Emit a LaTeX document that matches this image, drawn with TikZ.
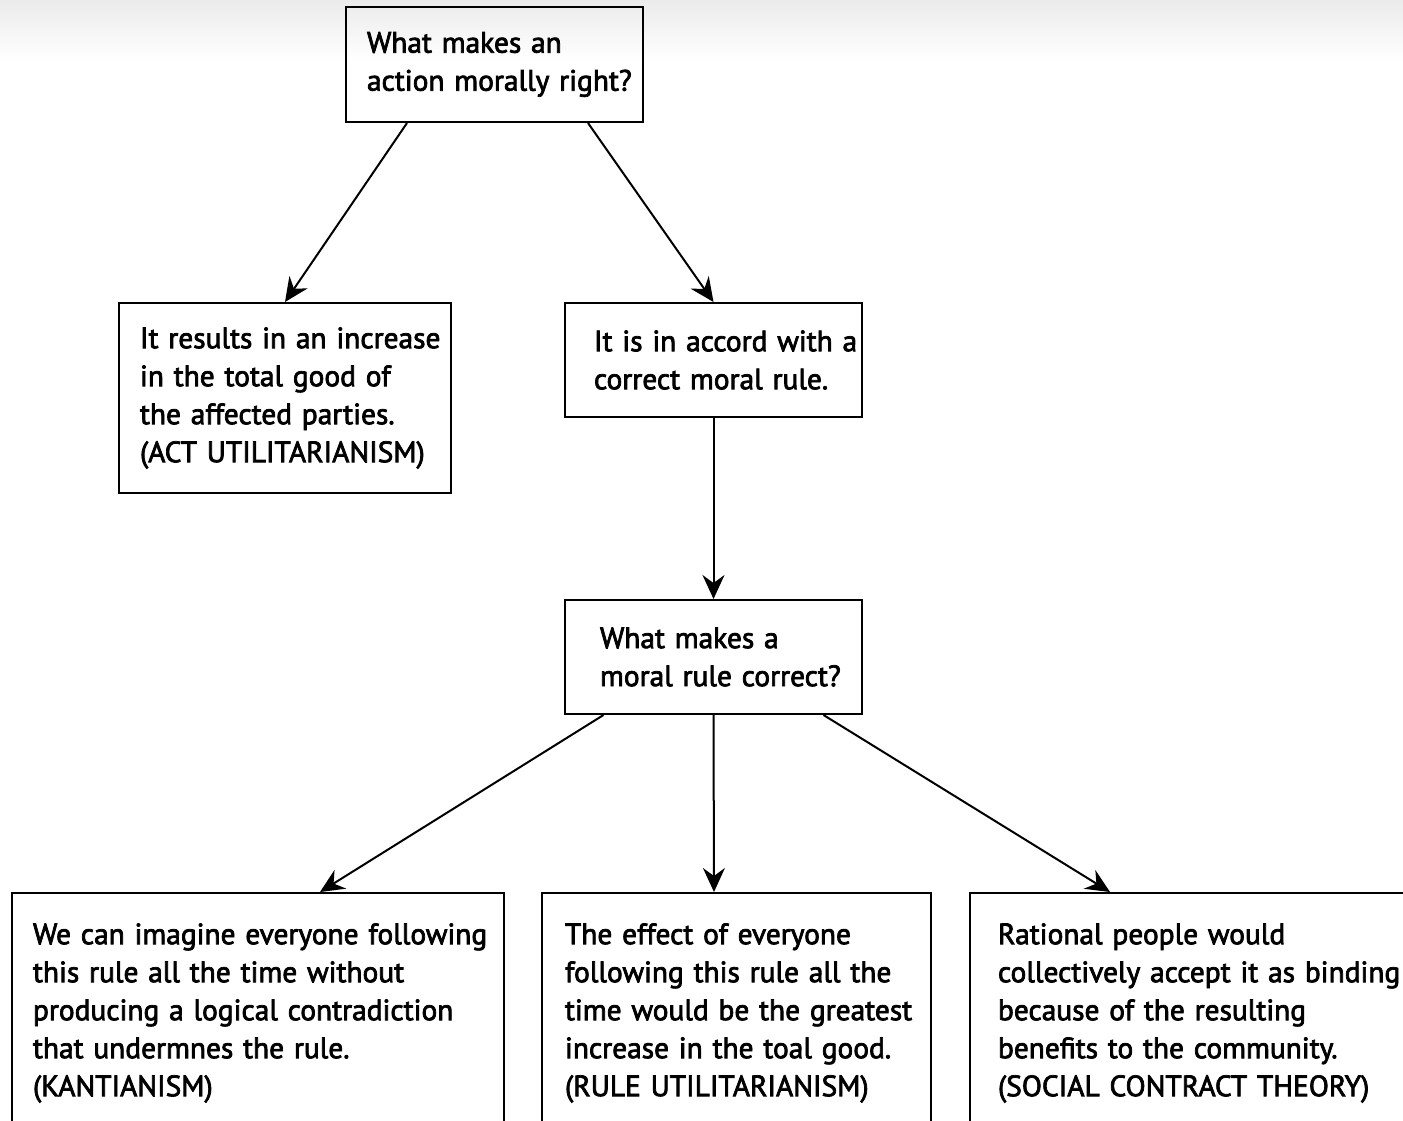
\documentclass[tikz,border=0pt]{standalone}
\usepackage{fontspec}
\setmainfont{PT Sans}[FakeBold=2.5]
\usepackage{tikz}
\usetikzlibrary{arrows.meta}

\begin{document}
\begin{tikzpicture}[x=0.5pt,y=-0.5pt]
\tikzset{>={Stealth[length=12pt,width=11pt,inset=4pt]}}
\tikzstyle{qbox} =[draw, line width=1pt, align=left, inner sep=0pt,
  font=\fontsize{14.7}{19}\selectfont]
\tikzset{lpad/.style={execute at begin node={\leftskip=#1\relax}}}
\tikzstyle{link} =[->, line width=1pt]

\useasboundingbox (0,0) rectangle (1403,1120);
\shade[top color=black!8, bottom color=white] (0,0) rectangle (1403,60);

\node[qbox, lpad=10.5pt, text width=148.5pt, minimum height=57.5pt](top) at (494.5,64.5)
  {What makes an\\action morally right?};
\node[qbox, lpad=10.5pt, text width=166pt, minimum height=95pt](act) at (285,398)
  {It results in an increase\\in the total good of\\the affected parties.\\(ACT UTILITARIANISM)};
\node[qbox, lpad=14.5pt, text width=148.5pt, minimum height=57pt](rule) at (713.5,360)
  {It is in accord with a\\correct moral rule.};
\node[qbox, lpad=17.5pt, text width=148.5pt, minimum height=57pt](what) at (713.5,657)
  {What makes a\\moral rule correct?};
\node[qbox, lpad=10.5pt, text width=246pt, minimum height=120pt](kant) at (258,1013)
  {We can imagine everyone following\\this rule all the time without\\producing a logical contradiction\\that undermnes the rule.\\(KANTIANISM)};
\node[qbox, lpad=11.5pt, text width=194.5pt, minimum height=120pt](rutil) at (736.5,1013)
  {The effect of everyone\\following this rule all the\\time would be the greatest\\increase in the toal good.\\(RULE UTILITARIANISM)};
\node[qbox, lpad=14pt, text width=225pt, minimum height=120pt](social) at (1195,1013)
  {Rational people would\\collectively accept it as binding\\because of the resulting\\benefits to the community.\\(SOCIAL CONTRACT THEORY)};

\draw[link] ([xshift=-43.75pt]top.south) -- (act.north);
\draw[link] ([xshift=46.75pt]top.south) -- (rule.north);
\draw[link] (rule.south) -- (what.north);
\draw[link] ([xshift=-55pt]what.south) -- ([xshift=31pt]kant.north);
\draw[link] (what.south) -- ([xshift=-11.25pt]rutil.north);
\draw[link] ([xshift=55pt]what.south) -- ([xshift=-42.5pt]social.north);
\end{tikzpicture}
\end{document}
